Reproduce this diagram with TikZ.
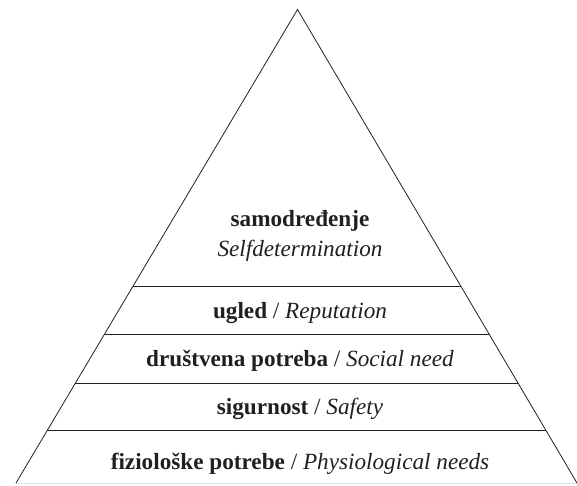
\documentclass[tikz,border=0pt]{standalone}
\usepackage{fontspec}
\setmainfont{Liberation Serif}
\usetikzlibrary{calc}
\definecolor{ink}{RGB}{35,31,32}

\begin{document}
\begin{tikzpicture}[x=1pt,y=-1pt,
  edge/.style={ink, line width=0.8pt},
  level/.style={font=\fontsize{23.2}{28}\selectfont, text=ink, anchor=base, inner sep=0pt}]
\useasboundingbox (0,0) rectangle (577,485);

\coordinate (top) at (297.5,9.5);
\coordinate (bl) at (16,483);
\coordinate (br) at (577,483);

\draw[edge] (bl) -- (top) -- (br);
\draw[gray!25, line width=0.8pt] (bl) -- (br);

\foreach \y in {286.7,334,383.3,430.7}
  \draw[edge] ($(top)!{(\y-9.5)/473.5}!(bl)$) -- ($(top)!{(\y-9.5)/473.5}!(br)$);

\node[level] (selfb) at (300,226) {\textbf{samodređenje}};
\node[level] (selfi) at (300,256) {\textit{Selfdetermination}};
\node[level] (ugled) at (300,318) {\textbf{ugled} / \textit{Reputation}};
\node[level] (social) at (300,366) {\textbf{društvena potreba} / \textit{Social need}};
\node[level] (safety) at (300,414) {\textbf{sigurnost} / \textit{Safety}};
\node[level] (physio) at (300,469) {\textbf{fiziološke potrebe} / \textit{Physiological needs}};
\end{tikzpicture}
\end{document}
